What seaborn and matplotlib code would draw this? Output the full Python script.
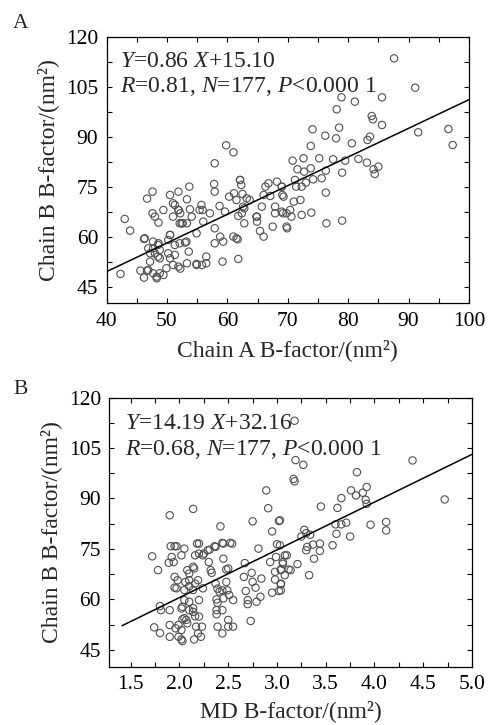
import numpy as np
import pandas as pd
import seaborn as sns
import matplotlib
matplotlib.use("Agg")
import matplotlib.pyplot as plt
from matplotlib.ticker import MultipleLocator

sns.set_style("ticks")
plt.rcParams["font.family"] = ["Liberation Serif", "DejaVu Serif"]
plt.rcParams["mathtext.fontset"] = "custom"
plt.rcParams["mathtext.rm"] = "Liberation Serif"
plt.rcParams["mathtext.it"] = "Liberation Serif:italic"

# panel A: chain A vs chain B B-factor
chain_a = [
    42.3, 43.0, 43.9, 46.2, 46.7, 47.6, 47.6, 48.0, 48.6, 45.6, 46.2, 46.7, 47.2, 47.7, 47.2,
    48.0, 47.7, 48.3, 48.8, 48.8, 49.4, 48.6, 48.8, 46.9, 50.5, 51.9, 51.3, 51.9, 52.2, 53.3,
    53.7, 53.8, 51.0, 52.4, 53.3, 50.5, 50.2, 51.3, 50.2, 50.5, 51.0, 51.9, 52.2, 53.0, 53.6,
    53.3, 54.9, 54.1, 54.9, 55.7, 55.9, 56.0, 56.5, 56.5, 57.1, 57.8, 57.9, 57.9, 57.9, 57.9,
    58.7, 58.8, 59.3, 59.2, 59.8, 61.0, 59.6, 60.3, 61.1, 61.5, 61.0, 61.7, 61.8, 61.8, 62.1,
    62.3, 62.5, 62.6, 62.8, 62.8, 63.2, 64.9, 64.9, 65.4, 65.7, 66.0, 66.0, 66.3, 66.8, 67.1,
    67.5, 67.9, 68.2, 67.9, 69.0, 69.3, 69.8, 69.2, 69.8,
    69.0, 69.1, 69.0, 69.9, 70.4, 70.6, 70.8, 71.0, 71.2, 71.4, 71.6, 72.1, 72.3, 72.3, 72.6,
    72.7, 73.0, 73.8, 73.8, 73.9, 74.1, 74.2, 75.2, 75.6, 76.2, 76.3, 76.3, 76.4, 77.5, 78.0,
    78.1, 78.5, 78.9, 79.0, 79.0, 79.5, 80.6, 81.1, 81.7, 83.1, 83.2, 83.6, 83.9, 84.1, 84.2,
    84.4, 85.0, 85.6, 85.6, 87.6, 91.1, 91.6, 96.6, 97.3,
    51.0, 51.9, 52.1, 52.6, 46.3, 47.7, 48.5, 50.5, 52.1, 53.2, 51.3, 48.5, 46.9, 48.3, 49.9,
    54.9, 55.8, 49.4, 55.4, 62.1, 63.7, 62.4, 64.8, 61.5,
]
chain_b_a = [
    48.8, 65.3, 61.8, 59.3, 71.4, 73.5, 67.0, 66.0, 64.2, 49.8, 47.7, 49.8, 52.5, 56.5, 55.0,
    55.0, 49.0, 47.5, 53.5, 49.0, 48.5, 58.0, 56.0, 56.5, 72.5, 73.5, 69.5, 68.0, 67.0, 71.2,
    75.0, 68.2, 66.0, 64.0, 64.0, 60.5, 59.0, 57.5, 55.0, 53.5, 51.5, 51.0, 50.4, 58.2, 55.5,
    52.0, 51.8, 66.0, 61.0, 69.5, 68.0, 64.5, 54.0, 52.0, 67.0, 75.8, 73.5, 82.0, 62.5, 58.0,
    69.2, 60.0, 58.5, 52.5, 87.4, 85.3, 67.5, 72.0, 73.0, 71.0, 60.0, 59.2, 53.3, 66.2, 77.0,
    75.5, 72.8, 69.0, 64.0, 68.5, 71.5, 66.0, 64.5, 61.7, 69.0, 72.5, 60.0, 75.0, 76.0, 72.2,
    63.0, 69.0, 76.5, 67.0, 75.0, 72.0, 63.0, 67.0, 67.0,
    75.0, 72.5, 67.5, 62.5, 68.0, 66.0, 82.8, 70.5, 77.0, 75.0, 80.2, 71.0, 66.5, 75.0, 83.5,
    79.5, 76.2, 80.5, 87.2, 67.2, 92.2, 77.2, 83.5, 77.5, 90.3, 73.2, 79.8, 64.0, 83.2, 89.5,
    98.2, 92.7, 101.8, 79.2, 64.8, 82.8, 88.0, 100.5, 83.3, 82.2, 89.0, 90.0, 96.2, 95.2, 80.2,
    78.8, 81.0, 93.5, 101.8, 113.5, 104.7, 91.3, 92.3, 87.5,
    70.0, 68.0, 64.0, 64.0, 59.5, 58.5, 57.5, 60.5, 58.0, 58.5, 54.5, 54.0, 50.0, 48.0, 50.5,
    51.5, 51.5, 68.0, 68.0, 77.0, 71.0, 67.0, 66.0, 59.5,
]

# panel B: MD vs chain B B-factor
md_b = [
    1.72, 1.78, 1.90, 1.91, 1.95, 1.97, 1.92, 1.89, 1.94, 2.02, 2.05, 1.95, 1.98, 1.95, 1.90,
    1.81, 1.80, 1.90, 1.74, 1.80, 1.90, 1.96, 1.99, 1.99, 2.02, 2.03, 2.02, 2.05, 2.05, 2.03,
    2.08, 2.10, 2.10, 2.14, 2.08, 2.10, 2.06, 2.10, 2.15, 2.18, 2.16, 2.20, 2.16, 2.19, 2.14,
    2.14, 2.16, 2.20, 2.17, 2.19, 2.15, 2.22, 2.23, 2.25, 2.30, 2.29, 2.31, 2.36, 2.32, 2.33,
    2.37, 2.38, 2.39, 2.39, 2.38, 2.39, 2.42, 2.44, 2.45, 2.44, 2.45, 2.44, 2.48, 2.48, 2.50,
    2.49, 2.50, 2.52, 2.55, 2.55, 2.50, 2.44, 2.51, 2.67, 2.66, 2.68, 2.70, 2.70, 2.73, 2.75,
    2.74, 2.75, 2.78, 2.79, 2.83, 2.81, 2.84, 2.89, 2.91, 2.95, 3.02, 3.00, 2.93, 2.95, 2.98,
    2.98, 2.99, 3.04, 3.04, 3.06, 3.10, 3.08, 3.02, 3.12,
    3.18, 3.19, 3.27, 3.17, 3.18, 3.03, 3.03, 3.08, 3.06, 3.04, 3.14, 3.21, 3.04, 3.04, 3.28,
    3.30, 3.25, 3.34, 3.33, 3.30, 3.31, 3.37, 3.38, 3.44, 3.44, 3.45, 3.57, 3.60, 3.61, 3.62,
    3.66, 3.66, 3.71, 3.75, 3.76, 3.81, 3.82, 3.88, 3.91, 3.92, 3.92, 3.96, 4.12, 4.12, 4.39,
    4.72,
    2.20, 2.37, 2.45, 2.54, 2.14, 2.24, 2.10, 1.97, 2.05, 2.24, 2.41, 2.03, 2.14, 2.07, 2.20,
    2.02, 2.38,
]
chain_b_b = [
    72.8, 68.7, 85.0, 75.8, 75.8, 75.8, 72.6, 70.9, 71.1, 73.1, 75.1, 66.7, 65.7, 63.5, 56.8,
    56.8, 58.0, 52.4, 51.7, 50.0, 48.9, 51.4, 52.4, 48.9, 48.1, 47.6, 57.3, 59.8, 54.4, 54.1,
    52.9, 56.8, 59.3, 86.9, 68.7, 67.7, 65.2, 63.9, 69.2, 76.6, 73.1, 73.6, 64.7, 65.7, 62.8,
    56.3, 55.0, 59.8, 51.9, 49.9, 48.1, 48.9, 51.9, 73.6, 71.1, 74.6, 74.8, 75.8, 68.7, 67.9,
    64.7, 60.0, 59.0, 63.2, 55.6, 51.9, 81.7, 76.8, 72.1, 49.9, 60.3, 56.8, 68.9, 65.2, 69.2,
    62.7, 53.9, 76.8, 59.8, 51.9, 51.9, 62.7, 61.3, 70.8, 66.7, 62.5, 59.8, 58.6, 53.6, 83.2,
    67.9, 65.2, 63.5, 59.3, 60.8, 75.1, 66.2, 92.4, 87.1, 80.2, 83.3, 76.4, 71.1, 62.0, 68.2,
    65.9, 72.6, 68.7, 64.7, 71.1, 73.1, 67.2, 62.5, 68.9,
    113.1, 101.4, 100.0, 95.8, 95.1, 83.5, 76.1, 73.1, 70.6, 68.9, 68.7, 70.5, 64.5, 62.7, 80.7,
    79.7, 78.7, 79.2, 67.2, 74.6, 75.6, 76.3, 72.1, 76.6, 74.4, 87.6, 76.1, 82.3, 79.5, 87.2,
    90.1, 82.3, 82.8, 78.7, 92.4, 90.9, 97.8, 91.7, 89.6, 93.4, 88.4, 82.2, 83.0, 80.5, 101.3,
    89.7,
    76.6, 75.6, 76.6, 76.6, 69.7, 73.1, 65.7, 63.3, 62.8, 63.3, 62.3, 57.8, 57.4, 53.9, 54.9,
    50.9, 56.8,
]

# fitted lines as printed on the chart
slope_a, icpt_a = 0.86, 15.10
slope_b, icpt_b = 14.19, 32.16
fit_x_a = np.array([40, 100])
fit_x_b = np.array([1.41, 5.0])

df_a = pd.DataFrame({"x": chain_a, "y": chain_b_a})
df_b = pd.DataFrame({"x": md_b, "y": chain_b_b})

tick_fs = 15.5
lab_fs = 17
fig = plt.figure(figsize=(4.89, 7.25), dpi=100)
ax_a = fig.add_axes([0.218, 0.5817, 0.741, 0.3677])
ax_b = fig.add_axes([0.2235, 0.0804, 0.7417, 0.3713])

pt_kw = dict(marker="o", s=28, facecolor="none", edgecolor="#505050", linewidth=0.8, legend=False)
sns.scatterplot(data=df_a, x="x", y="y", ax=ax_a, **pt_kw)
sns.scatterplot(data=df_b, x="x", y="y", ax=ax_b, **pt_kw)
sns.lineplot(x=fit_x_a, y=slope_a * fit_x_a + icpt_a, ax=ax_a, color="black", linewidth=1.1)
sns.lineplot(x=fit_x_b, y=slope_b * fit_x_b + icpt_b, ax=ax_b, color="black", linewidth=1.1)

ax_a.set_xlim(40, 100)
ax_a.xaxis.set_major_locator(MultipleLocator(10))
ax_a.xaxis.set_minor_locator(MultipleLocator(5))
ax_b.set_xlim(1.28, 5.0)
ax_b.set_xticks(np.arange(1.5, 5.01, 0.5))
ax_b.set_xticklabels([f"{v:.1f}" for v in np.arange(1.5, 5.01, 0.5)])
ax_b.xaxis.set_minor_locator(MultipleLocator(0.25))

for ax in (ax_a, ax_b):
    ax.set_ylim(40, 120)
    ax.set_yticks(np.arange(45, 121, 15))
    ax.set_yticks(np.arange(52.5, 120, 15), minor=True)
    ax.tick_params(which="both", direction="in", top=True, right=True, length=3.6, width=0.8,
                   labelsize=tick_fs, pad=6, colors="black")
    for sp in ax.spines.values():
        sp.set_linewidth(0.9)
        sp.set_color("black")
    ax.set_ylabel("Chain B B-factor/(nm²)", fontsize=lab_fs, labelpad=5)

ax_a.set_xlabel("Chain A B-factor/(nm²)", fontsize=lab_fs, labelpad=6)
ax_b.set_xlabel("MD B-factor/(nm²)", fontsize=lab_fs, labelpad=4)

ax_a.text(0.037, 0.906, r"$Y$=0.86 $X$+15.10", transform=ax_a.transAxes, fontsize=lab_fs, va="center")
ax_a.text(0.037, 0.8125, r"$R$=0.81, $N$=177, $P$<0.000 1", transform=ax_a.transAxes, fontsize=lab_fs, va="center")
ax_b.text(0.043, 0.905, r"$Y$=14.19 $X$+32.16", transform=ax_b.transAxes, fontsize=lab_fs, va="center")
ax_b.text(0.043, 0.806, r"$R$=0.68, $N$=177, $P$<0.000 1", transform=ax_b.transAxes, fontsize=lab_fs, va="center")

fig.text(0.027, 0.968, "A", fontsize=tick_fs, va="center")
fig.text(0.027, 0.4634, "B", fontsize=tick_fs, va="center")

fig.savefig("out.png", dpi=100)
